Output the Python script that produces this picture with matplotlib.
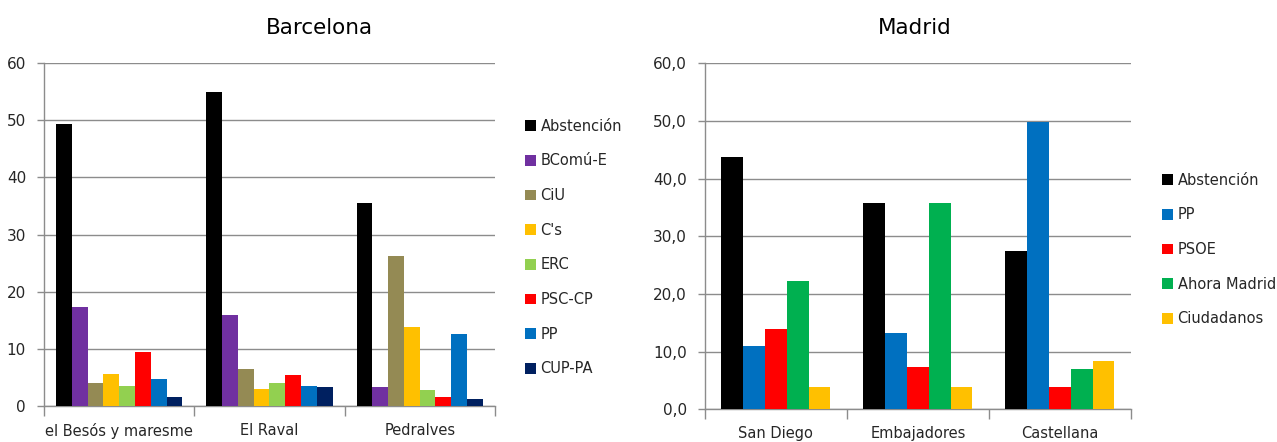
import matplotlib
matplotlib.use("Agg")
import matplotlib.pyplot as plt
import numpy as np

# Barcelona
bcn_barrios = ["el Besós y maresme", "El Raval", "Pedralves"]
bcn_partidos = ["Abstención", "BComú-E", "CiU", "C's", "ERC", "PSC-CP", "PP", "CUP-PA"]
bcn_colores = ["#000000", "#7030A0", "#948A54", "#FFC000", "#92D050", "#FF0000", "#0070C0", "#002060"]
bcn_valores = [
    [49.3, 54.9, 35.6],   # Abstención
    [17.3, 15.9, 3.4],    # BComú-E
    [4.1, 6.6, 26.2],     # CiU
    [5.6, 3.0, 13.8],     # C's
    [3.6, 4.1, 2.8],      # ERC
    [9.5, 5.5, 1.6],      # PSC-CP
    [4.8, 3.6, 12.6],     # PP
    [1.6, 3.3, 1.2],      # CUP-PA
]

# Madrid
mad_barrios = ["San Diego", "Embajadores", "Castellana"]
mad_partidos = ["Abstención", "PP", "PSOE", "Ahora Madrid", "Ciudadanos"]
mad_colores = ["#000000", "#0070C0", "#FF0000", "#00B050", "#FFC000"]
mad_valores = [
    [43.8, 35.8, 27.5],   # Abstención
    [11.0, 13.2, 49.8],   # PP
    [14.0, 7.3, 3.8],     # PSOE
    [22.2, 35.7, 7.0],    # Ahora Madrid
    [3.8, 3.9, 8.4],      # Ciudadanos
]

GRID = "#8C8C8C"
TXT = "#262626"


def grouped_bars(ax, barrios, partidos, colores, valores, group_w, yfmt):
    x = np.arange(len(barrios))
    n = len(partidos)
    w = group_w / n
    for i, (p, c, v) in enumerate(zip(partidos, colores, valores)):
        ax.bar(x - group_w / 2 + w * (i + 0.5), v, width=w, color=c, label=p, zorder=3)
    ax.set_xlim(-0.5, len(barrios) - 0.5)
    ax.set_ylim(0, 60)
    ax.set_yticks(np.arange(0, 61, 10))
    ax.set_yticklabels([yfmt(t) for t in np.arange(0, 61, 10)])
    ax.yaxis.grid(True, color=GRID, linewidth=1, zorder=0)
    # category separators as major ticks, labels on minor ticks
    ax.set_xticks(np.arange(len(barrios) + 1) - 0.5)
    ax.set_xticklabels([])
    ax.set_xticks(x, minor=True)
    ax.set_xticklabels(barrios, minor=True, fontsize=10.5, color=TXT)
    ax.tick_params(axis="x", which="major", length=7, color=GRID, width=1)
    ax.tick_params(axis="x", which="minor", length=0, pad=12)
    ax.tick_params(axis="y", length=5, color=GRID, width=1, labelsize=11, labelcolor=TXT, pad=8)
    for s in ["top", "right"]:
        ax.spines[s].set_visible(False)
    for s in ["left", "bottom"]:
        ax.spines[s].set_color(GRID)
        ax.spines[s].set_linewidth(1)


fig = plt.figure(figsize=(12.77, 4.42), dpi=100)

ax1 = fig.add_axes([0.0345, 0.0808, 0.353, 0.777])
grouped_bars(ax1, bcn_barrios, bcn_partidos, bcn_colores, bcn_valores, 0.84, lambda t: f"{t:.0f}")
fig.text(319 / 1277, 1 - 28 / 442, "Barcelona", ha="center", va="center", fontsize=15.5, color="#000000")
fig.legend(*ax1.get_legend_handles_labels(), loc="center left", bbox_to_anchor=(518 / 1277, 0.44),
           frameon=False, fontsize=10.5, labelspacing=1.35, handlelength=0.75, handleheight=0.75,
           handletextpad=0.3, borderpad=0, labelcolor=TXT)

ax2 = fig.add_axes([0.552, 0.074, 0.3336, 0.783])
grouped_bars(ax2, mad_barrios, mad_partidos, mad_colores, mad_valores, 0.768,
             lambda t: f"{t:.1f}".replace(".", ","))
fig.text(915 / 1277, 1 - 28 / 442, "Madrid", ha="center", va="center", fontsize=15.5, color="#000000")
fig.legend(*ax2.get_legend_handles_labels(), loc="center left", bbox_to_anchor=(1155 / 1277, 0.4355),
           frameon=False, fontsize=10.5, labelspacing=1.35, handlelength=0.75, handleheight=0.75,
           handletextpad=0.3, borderpad=0, labelcolor=TXT)

fig.savefig("out.png", dpi=100)
